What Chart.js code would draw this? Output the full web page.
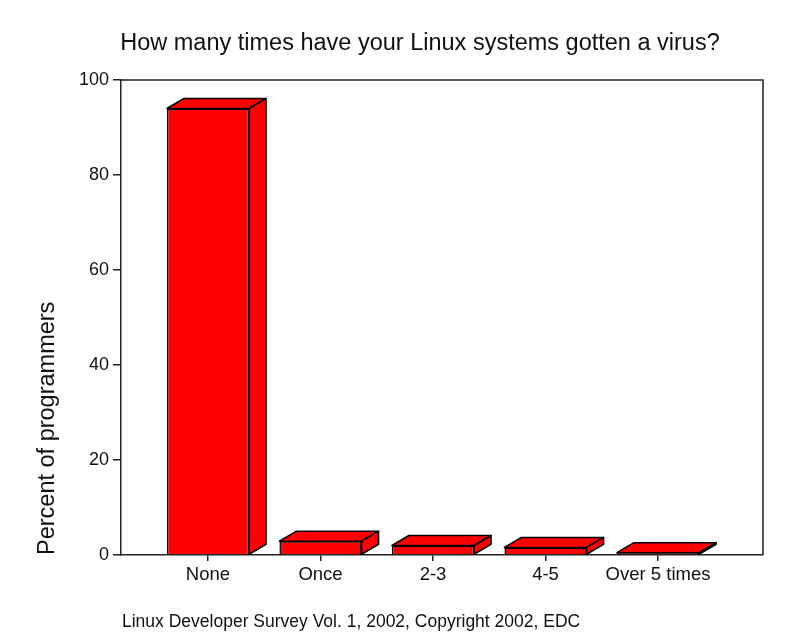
<!DOCTYPE html>
<html>
<head>
<meta charset="utf-8">
<script src="https://cdn.jsdelivr.net/npm/chart.js@4/dist/chart.umd.min.js"></script>
<style>
  body { margin: 0; background: #fff; }
  #wadah { width: 792px; height: 644px; position: relative; }
</style>
</head>
<body>
<div id="wadah"><canvas id="grafikVirus"></canvas></div>
<script>
// Data survei
const kategori = ['None', 'Once', '2-3', '4-5', 'Over 5 times'];
const persen = [94, 2.9, 2.0, 1.6, 0.5];
const tickY = [0, 20, 40, 60, 80, 100];

const judul = 'How many times have your Linux systems gotten a virus?';
const catatan = 'Linux Developer Survey Vol. 1, 2002, Copyright 2002, EDC';
const FONT = '"Liberation Sans", Arial, sans-serif';

// sisi atas dan samping batang (efek 3D)
const efek3D = {
    id: 'efek3D',
    afterDatasetsDraw(chart) {
        const ctx = chart.ctx;
        const dx = 17, dy = 10;
        chart.getDatasetMeta(0).data.forEach(bar => {
            const l = bar.x - bar.width / 2, r = bar.x + bar.width / 2;
            const t = bar.y, b = bar.base;
            ctx.save();
            ctx.fillStyle = '#ff0000';
            ctx.strokeStyle = '#000';
            ctx.lineWidth = 1.5;
            ctx.lineJoin = 'round';
            // atas
            ctx.beginPath();
            ctx.moveTo(l, t);
            ctx.lineTo(l + dx, t - dy);
            ctx.lineTo(r + dx, t - dy);
            ctx.lineTo(r, t);
            ctx.closePath();
            ctx.fill(); ctx.stroke();
            // samping
            ctx.beginPath();
            ctx.moveTo(r, t);
            ctx.lineTo(r + dx, t - dy);
            ctx.lineTo(r + dx, b - dy);
            ctx.lineTo(r, b);
            ctx.closePath();
            ctx.fill(); ctx.stroke();
            ctx.restore();
        });
    }
};

// bingkai, judul dan catatan kaki
const teksBingkai = {
    id: 'teksBingkai',
    afterDraw(chart) {
        const ctx = chart.ctx;
        const a = chart.chartArea;
        ctx.save();
        ctx.strokeStyle = '#222';
        ctx.lineWidth = 1.5;
        ctx.beginPath();
        ctx.moveTo(a.left, a.top);
        ctx.lineTo(a.right, a.top);
        ctx.lineTo(a.right, a.bottom);
        ctx.stroke();
        ctx.fillStyle = '#111';
        ctx.textBaseline = 'middle';
        ctx.font = '23.5px ' + FONT;
        ctx.textAlign = 'center';
        ctx.fillText(judul, 420, 44);
        ctx.font = '17.5px ' + FONT;
        ctx.textAlign = 'left';
        ctx.fillText(catatan, 122, 622);
        ctx.restore();
    }
};

const ctxVirus = document.getElementById('grafikVirus').getContext('2d');
const grafikVirus = new Chart(ctxVirus, {
    type: 'bar',
    data: {
        datasets: [{
            label: 'Percent of programmers',
            data: persen.map((v, i) => ({ x: i, y: v })),
            backgroundColor: '#ff0000',
            borderColor: '#000',
            borderWidth: 1.5,
            barPercentage: 0.73,
            categoryPercentage: 1
        }]
    },
    plugins: [efek3D, teksBingkai],
    options: {
        responsive: true,
        maintainAspectRatio: false,
        animation: false,
        layout: { padding: { top: 80, right: 29, left: 0, bottom: 0 } },
        plugins: {
            legend: { display: false },
            tooltip: { enabled: false }
        },
        scales: {
            x: {
                type: 'linear',
                offset: false,
                min: -0.773,
                max: 4.933,
                afterFit: s => { s.height = 89; },
                afterBuildTicks: s => { s.ticks = kategori.map((c, i) => ({ value: i })); },
                grid: { offset: false, drawOnChartArea: false, tickLength: 6, color: '#222', lineWidth: 1.5 },
                border: { color: '#222', width: 1.5 },
                ticks: {
                    padding: 3,
                    color: '#111',
                    font: { family: FONT, size: 18.5 },
                    callback: v => kategori[v]
                }
            },
            y: {
                min: 0,
                max: 100,
                afterFit: s => { s.width = 121; },
                afterBuildTicks: s => { s.ticks = tickY.map(v => ({ value: v })); },
                grid: { drawOnChartArea: false, tickLength: 8, color: '#222', lineWidth: 1.5 },
                border: { color: '#222', width: 1.5 },
                ticks: {
                    padding: 4,
                    color: '#111',
                    font: { family: FONT, size: 18 }
                },
                title: {
                    display: true,
                    text: 'Percent of programmers',
                    align: 'start',
                    color: '#111',
                    font: { family: FONT, size: 23.5 },
                    padding: { top: 33 }
                }
            }
        }
    }
});
</script>
</body>
</html>
